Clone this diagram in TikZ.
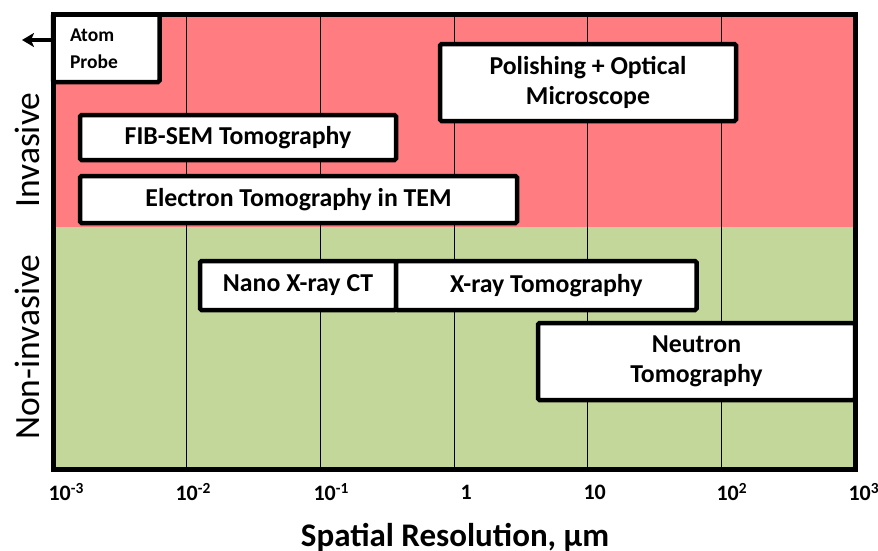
\documentclass[tikz,border=0pt]{standalone}
\usepackage{fontspec}
\setmainfont{Carlito}
\usetikzlibrary{arrows.meta}
\definecolor{inv}{RGB}{255,124,128}
\definecolor{noninv}{RGB}{196,215,155}
\begin{document}
\begin{tikzpicture}[x=1pt,y=-1pt,
		meth/.style={draw=black,line width=4.5pt,fill=white,rounded corners=1.5pt,inner sep=0pt,align=center,font=\bfseries\fontsize{25.8}{30}\selectfont},
		tk/.style={anchor=west,font=\bfseries\fontsize{22}{26}\selectfont},
		zone/.style={rotate=90,font=\fontsize{35.5}{40}\selectfont}]
	\useasboundingbox (0,0) rectangle (878,550);
	\fill[inv](53,14.5)rectangle(855,227);
	\fill[noninv](53,227)rectangle(855,469);
	\foreach \k in {1,...,5}
	\draw[line width=1pt](53+133.7*\k,14.5)--(53+133.7*\k,469);
	% methods
	\node[meth,minimum width=106.5pt,minimum height=67.5pt,text width=72.5pt,align=left,font=\bfseries\fontsize{19.5}{27}\selectfont](atom)at(106.25,48.25){Atom\\Probe};
	\node[meth,minimum width=296pt,minimum height=77pt](pol)at(588,82.5){Polishing + Optical\\Microscope};
	\node[meth,minimum width=316pt,minimum height=45pt](fib)at(238,137.5){FIB-SEM Tomography};
	\node[meth,minimum width=437pt,minimum height=47pt](tem)at(298.5,199.5){Electron Tomography in TEM};
	\node[meth,minimum width=196pt,minimum height=49pt](nano)at(298,285.5){Nano X-ray CT};
	\node[meth,minimum width=300.5pt,minimum height=49pt](xct)at(546.25,285.5){X-ray Tomography};
	\node[meth,minimum width=317pt,minimum height=77pt](neu)at(696.5,361.5){Neutron\\Tomography};
	\coordinate(tip)at(22,40);
	\draw[line width=3.5pt,-{Stealth[length=12pt,width=14pt,inset=3pt]}](tip-|atom.west)--(tip);
	% frame
	\draw[line width=5pt](53,14.5)rectangle(855,469);
	% axis
	\foreach \x/\lab in {45/10\textsuperscript{-3},172/10\textsuperscript{-2},310/10\textsuperscript{-1},457/1,580/10,713/10\textsuperscript{2},845/10\textsuperscript{3}}
	\node[tk](t\x)at(\x,492){\lab};
	\node[anchor=base,font=\bfseries\fontsize{33}{38}\selectfont](xlab)at(455,546){Spatial Resolution, µm};
	\node[zone](invl)at(27,150){Invasive};
	\node[zone](noninvl)at(27,347){Non-invasive};
\end{tikzpicture}
\end{document}
